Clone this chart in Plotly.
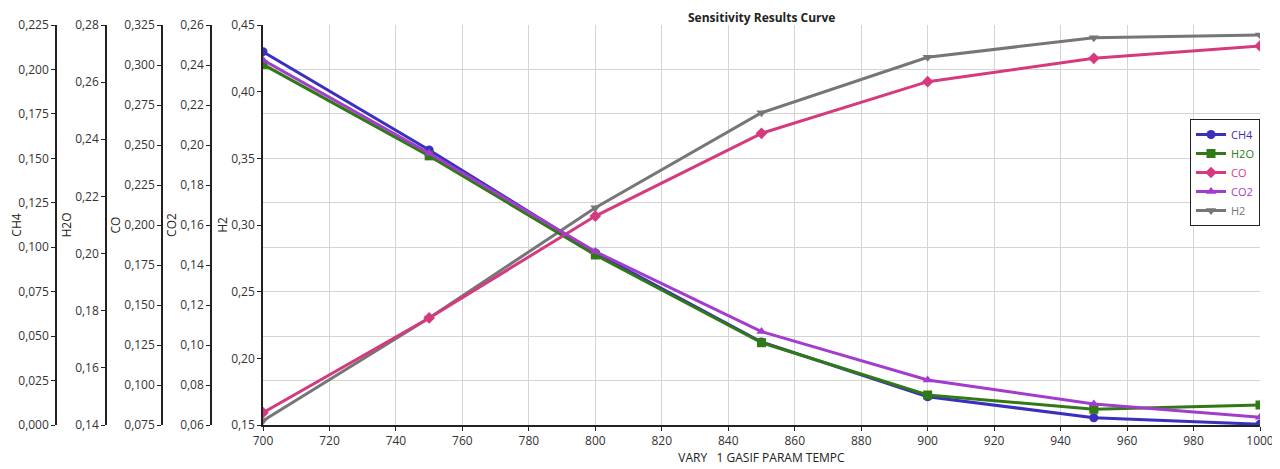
import plotly.graph_objects as go

temps = [700, 750, 800, 850, 900, 950, 1000]
ch4 = [0.2100, 0.1547, 0.0968, 0.0467, 0.0159, 0.0041, 0.0004]
h2o = [0.2662, 0.2342, 0.1995, 0.1688, 0.1505, 0.1455, 0.1470]
co = [0.0827, 0.1419, 0.2056, 0.2573, 0.2896, 0.3042, 0.3119]
co2 = [0.2425, 0.1959, 0.1467, 0.1067, 0.0825, 0.0705, 0.0639]
h2 = [0.1532, 0.2303, 0.3130, 0.3842, 0.4258, 0.4405, 0.4425]

x_ticks = list(range(700, 1001, 20))

FONT = "Open Sans, Noto Sans, sans-serif"
OFF = 8  # page body margin offset
W, H = 1280 - OFF, 469 - OFF
ML = 56 - OFF
MT = 25 - OFF
MR = W - (1260 - OFF)
MB = H - (425 - OFF)
pw = W - ML - MR
ph = H - MT - MB

def px(xpix):  # reference pixel -> paper x
    return (xpix - OFF - ML) / pw

def py(ypix):  # reference pixel -> paper y
    return (MT + ph - (ypix - OFF)) / ph

series = [
    ("CH4", ch4, "#3b2fbd", "circle", "y2"),
    ("H2O", h2o, "#2f7a14", "square", "y3"),
    ("CO", co, "#d53a7f", "diamond", "y4"),
    ("CO2", co2, "#a33ccc", "triangle-up", "y5"),
    ("H2", h2, "#767676", "triangle-down", "y"),
]

fig = go.Figure()
for name, vals, col, sym, ax in series:
    fig.add_trace(go.Scatter(
        x=temps, y=vals, yaxis=ax, mode="lines+markers",
        name=f"<span style='color:{col}'>{name}</span>",
        line=dict(color=col, width=3),
        marker=dict(symbol=sym, size=9, color=col),
    ))

axcommon = dict(
    showline=True, linecolor="#222", linewidth=1.5,
    ticks="outside", ticklen=4, tickcolor="#222", tickwidth=1.2,
    tickfont=dict(family=FONT, size=12, color="#333"),
    zeroline=False, side="left", automargin=False,
)

def ytitle(t):
    return dict(text=t, font=dict(family=FONT, size=12, color="#222"), standoff=0)

fig.update_layout(
    width=W, height=H,
    margin=dict(l=ML, r=MR, t=MT, b=MB, autoexpand=False),
    paper_bgcolor="white", plot_bgcolor="white",
    separators=", ",
    showlegend=True,
    xaxis=dict(
        domain=[px(263), 1], range=[700, 1000], automargin=False,
        tickvals=x_ticks, showgrid=True, gridcolor="#d4d4d4", gridwidth=1,
        showline=True, linecolor="#222", linewidth=1.5,
        ticks="outside", ticklen=4, tickcolor="#222",
        tickfont=dict(family=FONT, size=12, color="#333"), zeroline=False,
        title=dict(text="VARY\u00a0\u00a0\u00a01 GASIF PARAM TEMPC",
                   font=dict(family=FONT, size=12, color="#222"), standoff=2),
    ),
    yaxis=dict(axcommon, anchor="x", range=[0.15, 0.45], tick0=0.15, dtick=0.05,
               tickformat=".2f", showgrid=False, title=ytitle("H2")),
    yaxis2=dict(axcommon, anchor="free", overlaying="y", position=0,
                range=[0, 0.225], tick0=0, dtick=0.025, tickformat=".3f",
                showgrid=True, gridcolor="#d4d4d4", gridwidth=1, title=ytitle("CH4")),
    yaxis3=dict(axcommon, anchor="free", overlaying="y", position=px(106),
                range=[0.14, 0.28], tick0=0.14, dtick=0.02, tickformat=".2f",
                showgrid=False, title=ytitle("H2O")),
    yaxis4=dict(axcommon, anchor="free", overlaying="y", position=px(162),
                range=[0.075, 0.325], tick0=0.075, dtick=0.025, tickformat=".3f",
                showgrid=False, title=ytitle("CO")),
    yaxis5=dict(axcommon, anchor="free", overlaying="y", position=px(211),
                range=[0.06, 0.26], tick0=0.06, dtick=0.02, tickformat=".2f",
                showgrid=False, title=ytitle("CO2")),
    legend=dict(x=px(1190), y=py(119), xanchor="left", yanchor="top",
                bgcolor="white", bordercolor="#222", borderwidth=1,
                font=dict(family=FONT, size=11), itemwidth=30,
                tracegroupgap=0),
    annotations=[dict(
        text="<b>Sensitivity Results Curve</b>", showarrow=False,
        xref="paper", yref="paper", x=px(761), y=py(OFF),
        xanchor="center", yanchor="top", borderpad=0,
        font=dict(family=FONT, size=12, color="#222"),
    )],
)

fig.write_html("out.html")
